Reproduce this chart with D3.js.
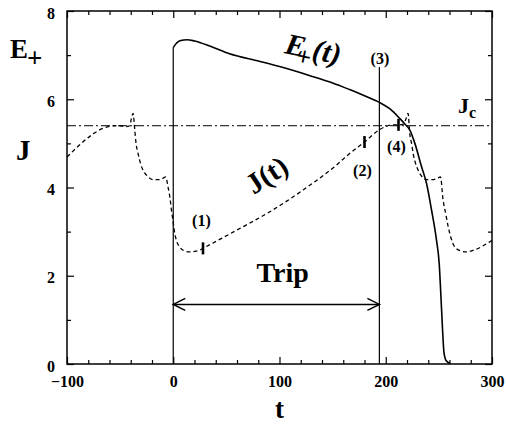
<!DOCTYPE html>
<html>
<head>
<meta charset="utf-8">
<style>
body { margin: 0; background: #fff; }
svg { font-family: "Liberation Serif", "DejaVu Serif", serif; font-weight: bold; }
.axis text { font-size: 16px; font-weight: bold; fill: #000; }
.axis line { stroke: #000; stroke-width: 1.2; }
.axis path { display: none; }
.frame { fill: none; stroke: #000; stroke-width: 1.5; }
.eplus { fill: none; stroke: #000; stroke-width: 1.6; }
.jline { fill: none; stroke: #000; stroke-width: 1.3; stroke-dasharray: 4,3; }
.jc { stroke: #000; stroke-width: 1; stroke-dasharray: 9,3,2,3; }
.vline { stroke: #000; stroke-width: 1.2; }
.mark { stroke: #000; stroke-width: 2.6; }
.arrow { fill: none; stroke: #000; stroke-width: 1.5; }
.lbl { fill: #000; }
</style>
</head>
<body>
<svg width="506" height="426"></svg>
<script src="https://cdn.jsdelivr.net/npm/d3@7"></script>
<script>

// E+(t), solid curve
var eT = [0, 3, 7, 13, 20, 35, 53, 81, 100, 128, 150, 166, 180, 194, 204, 213, 218, 222.7, 227.4, 233.7, 238.4, 243.1, 247.8, 250.3, 251.8, 253.5, 254.7, 256, 257.5, 260.5]
var eV = [7.17, 7.27, 7.33, 7.35, 7.32, 7.2, 7.03, 6.86, 6.74, 6.54, 6.37, 6.22, 6.08, 5.93, 5.78, 5.57, 5.44, 5.30, 5.0, 4.47, 4.09, 3.49, 2.80, 2.28, 1.6, 0.76, 0.28, 0.12, 0.06, 0.02]

// J(t), dashed curve
var jT = [-100, -55, -50, -44, -41, -39.5, -37.8, -36.2, -35, -33.1, -30.5, -28.4, -24, -19, -13, -9, -7, -4.9, -3, -1.7, 0, 1.4, 3, 6.1, 10, 15.5, 20, 25, 28, 59.5, 90.9, 122, 153.7, 166, 180, 194, 201, 207, 212, 216, 219, 221, 222.7, 224.3, 225.8, 228, 230.5, 234, 238.4, 245, 249.5, 251.5, 254, 256.5, 258.8, 261.5, 265, 270, 276, 285, 298, 300]
var jV = [4.69, 5.40, 5.40, 5.38, 5.40, 5.55, 5.68, 5.30, 5.0, 4.77, 4.52, 4.39, 4.25, 4.18, 4.18, 4.22, 4.24, 4.01, 3.75, 3.49, 3.2, 2.96, 2.8, 2.65, 2.57, 2.54, 2.55, 2.58, 2.62, 3.03, 3.45, 3.94, 4.51, 4.77, 5.03, 5.31, 5.39, 5.42, 5.42, 5.43, 5.55, 5.68, 5.2, 5.0, 4.77, 4.55, 4.39, 4.25, 4.18, 4.18, 4.22, 4.24, 3.71, 3.4, 3.11, 2.85, 2.65, 2.57, 2.54, 2.6, 2.77, 2.8]

var jc = 5.4
// trip boundaries: t and the top of each vertical line
var tripT = [0, 194]
var tripTop = [7.17, 6.73]
var tripArrowV = 1.35

// numbered markers on J(t)
var markT = [28, 180, 212]
var markV = [2.62, 5.03, 5.42]
var numTxt = ["(1)", "(2)", "(3)", "(4)"]
var numT = [26.5, 178, 194.5, 210]
var numV = [3.12, 4.26, 6.8, 4.8]

var xMajor = [-100, 0, 100, 200, 300]
var yMajor = [0, 2, 4, 6, 8]
var xMinor = d3.range(-100, 301, 20).filter(function(d) { return d % 100 != 0 })
var yMinor = [1, 3, 5, 7]

var serif = '"Liberation Serif", "DejaVu Serif", serif'

var svg = d3.select("svg"),
    margin = {top: 11, right: 14, bottom: 62, left: 67},
    width = +svg.attr("width") - margin.left - margin.right,
    height = +svg.attr("height") - margin.top - margin.bottom;

var x = d3.scaleLinear().domain([-100, 300]).range([0, width])
var y = d3.scaleLinear().domain([0, 8]).range([height, 0])

var g = svg.append("g")
    .attr("transform", "translate(" + margin.left + "," + margin.top + ")");

// axes, ticks pointing inward on all four sides
function axisG(tr) {
  return g.append("g").attr("class", "axis")
    .attr("transform", tr || null)
}
axisG("translate(0," + height + ")")
  .call(d3.axisBottom(x).tickValues(xMajor).tickSize(-7).tickPadding(12))
  .attr("font-family", serif)
axisG("translate(0," + height + ")")
  .call(d3.axisBottom(x).tickValues(xMinor).tickSize(-4).tickFormat(""))
axisG()
  .call(d3.axisTop(x).tickValues(xMajor).tickSize(-7).tickFormat(""))
axisG()
  .call(d3.axisTop(x).tickValues(xMinor).tickSize(-4).tickFormat(""))

var gy = axisG()
  .call(d3.axisLeft(y).tickValues(yMajor).tickSize(-7).tickPadding(12))
  .attr("font-family", serif)
gy.selectAll("text").attr("dy", "0.45em")
axisG()
  .call(d3.axisLeft(y).tickValues(yMinor).tickSize(-4).tickFormat(""))
axisG("translate(" + width + ",0)")
  .call(d3.axisRight(y).tickValues(yMajor).tickSize(-7).tickFormat(""))
axisG("translate(" + width + ",0)")
  .call(d3.axisRight(y).tickValues(yMinor).tickSize(-4).tickFormat(""))

g.append("rect").attr("class", "frame")
  .attr("width", width).attr("height", height)

// Jc level
g.append("line").attr("class", "jc")
  .attr("x1", 0).attr("x2", width)
  .attr("y1", y(jc)).attr("y2", y(jc))

// trip boundaries
g.selectAll(".vline").data(tripT).enter().append("line")
  .attr("class", "vline")
  .attr("x1", function(d) { return x(d) }).attr("x2", function(d) { return x(d) })
  .attr("y1", y(0)).attr("y2", function(d, i) { return y(tripTop[i]) })

// curves
var eLine = d3.line()
  .x(function(d, i) { return x(eT[i]) })
  .y(function(d) { return y(d) })
  .curve(d3.curveMonotoneX)
g.append("path").attr("class", "eplus").attr("d", eLine(eV))

var jLine = d3.line()
  .x(function(d, i) { return x(jT[i]) })
  .y(function(d) { return y(d) })
  .curve(d3.curveMonotoneX)
g.append("path").attr("class", "jline").attr("d", jLine(jV))

// markers on J
g.selectAll(".mark").data(markT).enter().append("line")
  .attr("class", "mark")
  .attr("x1", function(d) { return x(d) }).attr("x2", function(d) { return x(d) })
  .attr("y1", function(d, i) { return y(markV[i]) - 6 })
  .attr("y2", function(d, i) { return y(markV[i]) + 6 })

g.selectAll(".num").data(numTxt).enter().append("text")
  .attr("class", "lbl num")
  .attr("x", function(d, i) { return x(numT[i]) })
  .attr("y", function(d, i) { return y(numV[i]) })
  .attr("text-anchor", "middle")
  .attr("font-size", 16)
  .text(function(d) { return d })

// trip arrow
var ay = y(tripArrowV), ax0 = x(tripT[0]), ax1 = x(tripT[1])
g.append("line").attr("class", "arrow")
  .attr("x1", ax0).attr("x2", ax1).attr("y1", ay).attr("y2", ay)
g.append("path").attr("class", "arrow")
  .attr("d", "M" + (ax0 + 12) + "," + (ay - 6) + "L" + ax0 + "," + ay + "L" + (ax0 + 12) + "," + (ay + 6))
g.append("path").attr("class", "arrow")
  .attr("d", "M" + (ax1 - 12) + "," + (ay - 6) + "L" + ax1 + "," + ay + "L" + (ax1 - 12) + "," + (ay + 6))
g.append("text").attr("class", "lbl")
  .attr("x", x(103)).attr("y", y(1.85))
  .attr("text-anchor", "middle").attr("font-size", 28)
  .text("Trip")

// Jc label
var jcl = g.append("text").attr("class", "lbl")
  .attr("x", x(268)).attr("y", y(5.69)).attr("font-size", 22)
jcl.append("tspan").text("J")
jcl.append("tspan").attr("font-size", 16).attr("dy", 5).text("c")

// E+(t) curve label
var el = g.append("text").attr("class", "lbl")
  .attr("transform", "translate(" + x(104) + "," + y(7.05) + ") rotate(12)")
  .attr("font-size", 30)
el.append("tspan").attr("font-style", "italic").text("E")
el.append("tspan").attr("font-size", 26).attr("dx", -7).attr("dy", 8).text("+")
el.append("tspan").attr("font-style", "italic").attr("dy", -8).text("(t)")

// J(t) curve label
g.append("text").attr("class", "lbl")
  .attr("transform", "translate(" + x(93) + "," + y(4.1) + ") rotate(-33)")
  .attr("text-anchor", "middle").attr("font-size", 29)
  .text("J(t)")

// axis titles
svg.append("text").attr("class", "lbl")
  .attr("x", 10).attr("y", 58).attr("font-size", 27).text("E")
svg.append("text").attr("class", "lbl")
  .attr("x", 27).attr("y", 67).attr("font-size", 27).text("+")
svg.append("text").attr("class", "lbl")
  .attr("x", 16).attr("y", 160).attr("font-size", 29).text("J")
svg.append("text").attr("class", "lbl")
  .attr("x", margin.left + x(100)).attr("y", 418)
  .attr("text-anchor", "middle").attr("font-size", 27).text("t")

</script>
</body>
</html>
